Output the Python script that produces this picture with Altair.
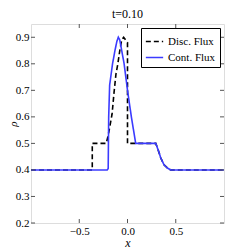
import altair as alt
import pandas as pd

series_names = ["Disc. Flux", "Cont. Flux"]

disc_x = [-1.0, -0.365, -0.365, -0.22, -0.2, -0.18, -0.16, -0.14, -0.12, -0.10, -0.08, -0.06, -0.04, -0.02, 0.0, 0.0,
          0.293, 0.317, 0.345, 0.379, 0.414, 0.448, 1.0]
disc_y = [0.4, 0.4, 0.5, 0.5, 0.53, 0.57, 0.61, 0.69, 0.76, 0.80, 0.85, 0.89, 0.90, 0.89, 0.88, 0.5,
          0.5, 0.476, 0.445, 0.419, 0.407, 0.4, 0.4]

cont_x = [-1.0, -0.21, -0.2, -0.195, -0.185, -0.17, -0.155, -0.13, -0.11, -0.095, -0.08, -0.06, -0.035, 0.0, 0.04, 0.085,
          0.293, 0.317, 0.345, 0.379, 0.414, 0.448, 1.0]
cont_y = [0.4, 0.4, 0.405, 0.6, 0.72, 0.76, 0.80, 0.85, 0.885, 0.90, 0.89, 0.85, 0.80, 0.70, 0.60, 0.5,
          0.5, 0.476, 0.445, 0.419, 0.407, 0.4, 0.4]

x_ticks = [-0.5, 0.0, 0.5]
y_ticks = [0.2, 0.3, 0.4, 0.5, 0.6, 0.7, 0.8, 0.9]

rows = []
for i, (x, y) in enumerate(zip(disc_x, disc_y)):
    rows.append({"x": x, "y": y, "s": series_names[0], "o": i})
for i, (x, y) in enumerate(zip(cont_x, cont_y)):
    rows.append({"x": x, "y": y, "s": series_names[1], "o": i})
df = pd.DataFrame(rows)

W, H = 193, 199
FONT = "Liberation Serif"

xs = alt.Scale(domain=[-1, 1], nice=False, zero=False)
ys = alt.Scale(domain=[0.2, 0.95], nice=False, zero=False)

x_axis = alt.Axis(values=x_ticks, format=".1f", title="x", titleFontStyle="italic",
                  titleFontWeight="normal", titleFontSize=12, titlePadding=1,
                  labelFontSize=11, labelPadding=2, ticks=False, domain=False, grid=False,
                  labelOverlap=False)
y_axis = alt.Axis(values=y_ticks, format=".1f", title="ρ", titleFontStyle="italic",
                  titleFontWeight="normal", titleFontSize=11, titlePadding=-3,
                  labelFontSize=11, labelPadding=2, ticks=False, domain=False, grid=False,
                  labelOverlap=False)

lines = alt.Chart(df).mark_line(strokeWidth=1.6).encode(
    x=alt.X("x:Q", scale=xs, axis=x_axis, title="x"),
    y=alt.Y("y:Q", scale=ys, axis=y_axis, title="ρ"),
    color=alt.Color("s:N", scale=alt.Scale(domain=series_names, range=["black", "#3b3bff"]),
                    legend=alt.Legend(title=None, orient="top-right", offset=4, fillColor="white",
                                      strokeColor="black", padding=4, cornerRadius=0,
                                      symbolType="stroke", symbolStrokeWidth=1.6, symbolSize=300,
                                      labelFontSize=11, labelFont=FONT, rowPadding=1)),
    strokeDash=alt.StrokeDash("s:N", scale=alt.Scale(domain=series_names, range=[[5, 3], [1, 0]]),
                              legend=alt.Legend(title=None, orient="top-right")),
    order="o:Q",
)

tx = pd.DataFrame({"x": x_ticks})
ty = pd.DataFrame({"y": y_ticks})
tick_style = dict(color="#555", strokeWidth=1)
bot = alt.Chart(tx).mark_rule(**tick_style).encode(x=alt.X("x:Q", scale=xs, axis=x_axis, title="x"),
                                                   y=alt.value(H), y2=alt.value(H - 4))
top = alt.Chart(tx).mark_rule(**tick_style).encode(x=alt.X("x:Q", scale=xs, axis=x_axis, title="x"),
                                                   y=alt.value(0), y2=alt.value(4))
lef = alt.Chart(ty).mark_rule(**tick_style).encode(y=alt.Y("y:Q", scale=ys, axis=y_axis, title="ρ"),
                                                   x=alt.value(0), x2=alt.value(4))
rig = alt.Chart(ty).mark_rule(**tick_style).encode(y=alt.Y("y:Q", scale=ys, axis=y_axis, title="ρ"),
                                                   x=alt.value(W), x2=alt.value(W - 4))

chart = alt.layer(lines, bot, top, lef, rig).properties(
    width=W, height=H,
    title=alt.Title("t=0.10", fontSize=12, font=FONT, fontWeight="normal", offset=3),
    autosize=alt.AutoSizeParams(type="none"),
    padding={"left": 23, "top": 16, "right": 17, "bottom": 25},
).configure_view(stroke="#666", strokeWidth=1.5).configure(font=FONT).configure_axis(
    labelFont=FONT, titleFont=FONT, labelColor="black", titleColor="black")

chart.save("out.html", embed_options={"renderer": "svg", "actions": False})
